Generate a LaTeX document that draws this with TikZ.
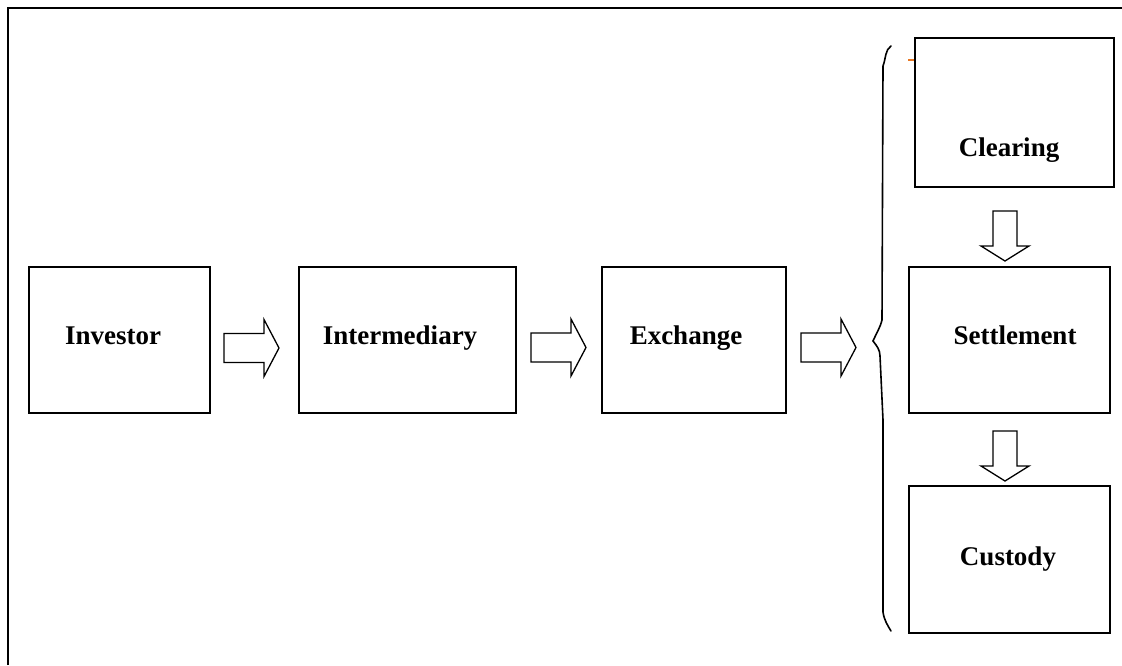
\documentclass[tikz,border=0pt]{standalone}
\usepackage{fontspec}
\setmainfont{Liberation Serif}
\begin{document}
\begin{tikzpicture}[x=1pt,y=-1pt,
  box/.style={draw,line width=2pt,minimum width=#1,inner sep=0pt,anchor=north west},
  lbl/.style={font=\fontsize{27}{32}\selectfont\bfseries,anchor=base,inner sep=0pt},
  blk/.style={draw,line width=1.3pt,line join=miter},
  pics/rarrow/.style={code={\draw[blk] (0,-14.5) -- (40,-14.5) -- (40,-28.5) -- (55,0) -- (40,28.5) -- (40,14.5) -- (0,14.5) -- cycle;}},
  pics/darrow/.style={code={\draw[blk] (-12,0) -- (12,0) -- (12,35) -- (24,35) -- (0,50) -- (-24,35) -- (-12,35) -- cycle;}}
]
\useasboundingbox (0,0) rectangle (1122,665);
% frame (left and top edges visible)
\draw[line width=2pt] (8,665) -- (8,8) -- (1122,8);
% boxes
\node[box=181pt,minimum height=146pt] (inv) at (28,266) {};
\node[box=217pt,minimum height=146pt] (int) at (298,266) {};
\node[box=184pt,minimum height=146pt] (exc) at (601,266) {};
\node[box=201pt,minimum height=146pt] (set) at (908,266) {};
\node[box=199pt,minimum height=149pt] (clr) at (914,37) {};
\node[box=201pt,minimum height=147pt] (cus) at (908,485) {};
% labels
\node[lbl] (tinv) at (113,344) {Investor};
\node[lbl] (tint) at (400,344) {Intermediary};
\node[lbl] (texc) at (686,344) {Exchange};
\node[lbl] (tset) at (1015,344) {Settlement};
\node[lbl] (tclr) at (1009,156) {Clearing};
\node[lbl] (tcus) at (1008,565) {Custody};
% block arrows
\pic at (224,348) {rarrow};
\pic at (531,347.5) {rarrow};
\pic at (801,347.5) {rarrow};
\pic at (1005,211) {darrow};
\pic at (1005,431) {darrow};
% brace
\draw[line width=1.6pt,line cap=round]
  (891,46) .. controls (885,50) and (886,58) .. (883,66)
  -- (882,320) .. controls (880,328) and (876,334) .. (873,341)
  .. controls (877,346) and (880,350) .. (880,356)
  -- (883,420) -- (883,612) .. controls (884,620) and (888,626) .. (891,631);
% small orange mark
\draw[line width=1.2pt,color={rgb,255:red,232;green,119;blue,34}] (908,60) -- (914,60);
\end{tikzpicture}
\end{document}
